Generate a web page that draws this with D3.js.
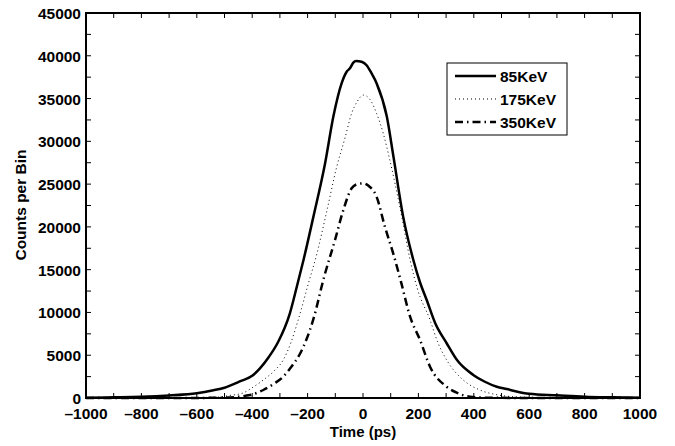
<!DOCTYPE html>
<html>
<head>
    <meta charset="UTF-8">
    <title>counts per bin</title>
    <script src="https://d3js.org/d3.v7.min.js"></script>
    <style>
        body { margin: 0; background: #fff; }
        text { font-family: "Liberation Sans", Arial, sans-serif; font-weight: bold; }
    </style>
</head>
<body>
    <svg id="chart"></svg>
    <script>
        // ---- data ----
        var xTickValues = [-1000, -800, -600, -400, -200, 0, 200, 400, 600, 800, 1000];
        var yTickValues = [0, 5000, 10000, 15000, 20000, 25000, 30000, 35000, 40000, 45000];
        var seriesNames = ["85KeV", "175KeV", "350KeV"];

        var t85 = [-1000, -900, -800, -700, -600, -540, -500, -440, -400, -372, -340, -306, -264, -239, -215, -179, -137, -107, -77, -59, -47, -35, -25, -5, 13, 30, 49, 86, 110, 145, 182, 206, 230, 260, 302, 340, 398, 440, 483, 519, 550, 600, 700, 800, 900, 1000];
        var c85 = [30, 80, 150, 300, 550, 900, 1200, 2000, 2600, 3470, 4800, 6580, 9900, 13000, 16100, 21200, 27400, 32900, 36800, 38140, 38530, 39200, 39400, 39300, 38900, 38000, 36800, 32900, 28200, 21200, 16100, 13500, 11450, 8800, 6400, 4400, 2700, 1900, 1320, 1050, 800, 500, 320, 150, 80, 40];

        var t175 = [-1000, -800, -600, -528, -480, -432, -400, -360, -320, -288, -260, -234, -197, -167, -131, -95, -65, -41, -20, 1, 25, 49, 73, 97, 116, 140, 170, 196, 242, 270, 302, 362, 422, 480, 542, 600, 800, 1000];
        var c175 = [10, 30, 60, 100, 300, 600, 1200, 2100, 3200, 4440, 6500, 9120, 13400, 16800, 21800, 27000, 30400, 33270, 34700, 35410, 34900, 33270, 30940, 27800, 25000, 21190, 16130, 12800, 9120, 6500, 4440, 2100, 935, 400, 150, 80, 30, 10];

        var t350 = [-1000, -600, -500, -408, -360, -320, -288, -260, -227, -180, -140, -101, -71, -41, -20, 1, 20, 49, 79, 109, 137, 170, 206, 242, 302, 340, 386, 450, 600, 1000];
        var c350 = [0, 10, 50, 350, 935, 1700, 2490, 3600, 5200, 9120, 14200, 18470, 21970, 24510, 25000, 25090, 24800, 23530, 20020, 16910, 13600, 9500, 6780, 3660, 1320, 600, 150, 30, 5, 0];

        var width = 675, height = 446;
        var pLeft = 86, pRight = 640, pTop = 13, pBottom = 398;

        var svg = d3.select("#chart").attr("width", width).attr("height", height);

        var x = d3.scaleLinear().domain([-1000, 1000]).range([pLeft, pRight]);
        var y = d3.scaleLinear().domain([0, 45000]).range([pBottom, pTop]);

        function pairs(ts, cs) {
            return ts.map(function(t, i) { return [t, cs[i]]; });
        }

        var line = d3.line()
            .x(function(d) { return x(d[0]); })
            .y(function(d) { return y(d[1]); })
            .curve(d3.curveMonotoneX);

        var styles = [
            { width: 2.5, dash: null },
            { width: 1, dash: "1,3" },
            { width: 2.5, dash: "8,4,1.5,4" }
        ];
        var series = [pairs(t85, c85), pairs(t175, c175), pairs(t350, c350)];

        series.forEach(function(s, i) {
            svg.append("path")
                .datum(s)
                .attr("d", line)
                .attr("fill", "none")
                .attr("stroke", "black")
                .attr("stroke-width", styles[i].width)
                .attr("stroke-dasharray", styles[i].dash);
        });

        // inward ticks on all four sides
        var xMinor = d3.range(-1000, 1001, 100);
        var yMinor = d3.range(0, 45001, 2500);
        var tickLen = 5;

        xMinor.forEach(function(v) {
            svg.append("line").attr("x1", x(v)).attr("x2", x(v)).attr("y1", pBottom).attr("y2", pBottom - tickLen)
                .attr("stroke", "black").attr("stroke-width", 1);
            svg.append("line").attr("x1", x(v)).attr("x2", x(v)).attr("y1", pTop).attr("y2", pTop + tickLen)
                .attr("stroke", "black").attr("stroke-width", 1);
        });
        yMinor.forEach(function(v) {
            svg.append("line").attr("x1", pLeft).attr("x2", pLeft + tickLen).attr("y1", y(v)).attr("y2", y(v))
                .attr("stroke", "black").attr("stroke-width", 1);
            svg.append("line").attr("x1", pRight).attr("x2", pRight - tickLen).attr("y1", y(v)).attr("y2", y(v))
                .attr("stroke", "black").attr("stroke-width", 1);
        });

        svg.append("rect")
            .attr("x", pLeft).attr("y", pTop)
            .attr("width", pRight - pLeft).attr("height", pBottom - pTop)
            .attr("fill", "none").attr("stroke", "black").attr("stroke-width", 2);

        // tick labels
        svg.selectAll(".xlab").data(xTickValues).enter().append("text")
            .attr("x", function(d) { return x(d); })
            .attr("y", pBottom + 21)
            .attr("text-anchor", "middle")
            .attr("font-size", 15.5)
            .text(function(d) { return d < 0 ? "\u2013" + (-d) : d; });

        svg.selectAll(".ylab").data(yTickValues).enter().append("text")
            .attr("x", pLeft - 5)
            .attr("y", function(d) { return y(d) + 6; })
            .attr("text-anchor", "end")
            .attr("font-size", 15.5)
            .text(function(d) { return d; });

        svg.append("text")
            .attr("x", (pLeft + pRight) / 2).attr("y", 437)
            .attr("text-anchor", "middle")
            .attr("font-size", 15)
            .text("Time (ps)");

        svg.append("text")
            .attr("transform", "translate(26,205) rotate(-90)")
            .attr("text-anchor", "middle")
            .attr("font-size", 15.5)
            .text("Counts per Bin");

        // legend
        var legend = svg.append("g");
        legend.append("rect")
            .attr("x", 447).attr("y", 63).attr("width", 120).attr("height", 72)
            .attr("fill", "white").attr("stroke", "black").attr("stroke-width", 1);

        seriesNames.forEach(function(name, i) {
            var cy = 76 + i * 23;
            legend.append("line")
                .attr("x1", 455).attr("x2", 496).attr("y1", cy).attr("y2", cy)
                .attr("stroke", "black")
                .attr("stroke-width", styles[i].width)
                .attr("stroke-dasharray", styles[i].dash);
            legend.append("text")
                .attr("x", 500).attr("y", cy + 5.5)
                .attr("font-size", 15.5)
                .text(name);
        });
    </script>
</body>
</html>
